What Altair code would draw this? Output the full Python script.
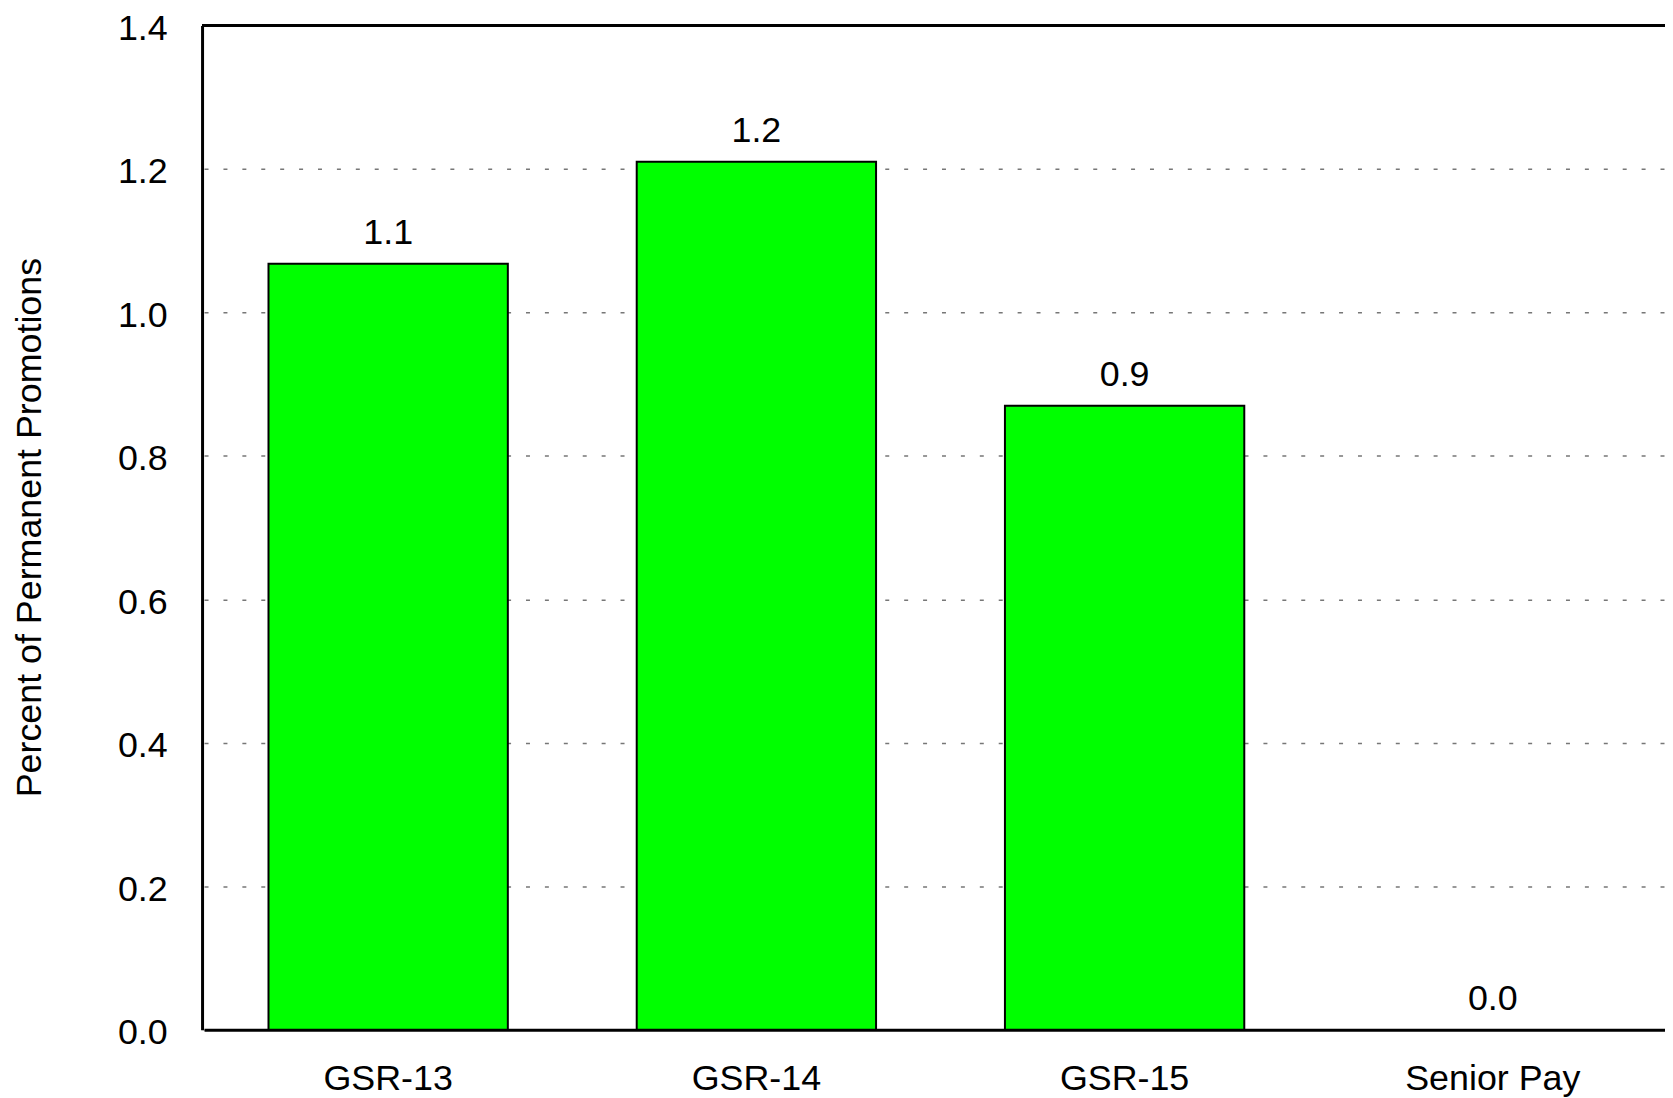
import altair as alt
import pandas as pd

categories = ["GSR-13", "GSR-14", "GSR-15", "Senior Pay"]
values = [1.068, 1.21, 0.87, 0.0]
y_ticks = [0.0, 0.2, 0.4, 0.6, 0.8, 1.0, 1.2, 1.4]

df = pd.DataFrame({"grade": categories, "pct": values})

FONT = "Liberation Sans"
FS = 36

x_scale = alt.Scale(domain=categories, range=[2, 1482], paddingInner=0.35, paddingOuter=0.175)

x = alt.X("grade:N", sort=categories, title=None, scale=x_scale,
          axis=alt.Axis(labelAngle=0, labelFontSize=FS, labelFont=FONT, labelColor="black",
                        labelPadding=32, ticks=False, domain=True, domainColor="black",
                        domainWidth=3, grid=False))
y = alt.Y("pct:Q", title="Percent of Permanent Promotions",
          scale=alt.Scale(domain=[0, 1.4], nice=False),
          axis=alt.Axis(values=y_ticks, format=".1f", labelFontSize=FS, labelFont=FONT,
                        labelColor="black", labelPadding=35, labelOffset=3, ticks=False,
                        domainColor="black", domainWidth=3,
                        grid=True, gridColor="#777777", gridDash=[4, 15], gridWidth=1.5,
                        titleFontSize=FS, titleFont=FONT, titleFontWeight="normal",
                        titleColor="black", titleX=-173, titleY=504,
                        titleAngle=-90, titleBaseline="middle", titleAlign="center"))

bars = alt.Chart(df).transform_filter("datum.pct > 0").mark_bar(
    color="#00ff00", stroke="black", strokeWidth=2).encode(x=x, y=y)
labels = alt.Chart(df).mark_text(baseline="alphabetic", dy=-20, fontSize=FS, font=FONT,
                                 color="black").encode(
    x=alt.X("grade:N", sort=categories, scale=x_scale),
    y="pct:Q",
    text=alt.Text("pct:Q", format=".1f"))
top_line = alt.Chart(df).mark_rule(color="black", strokeWidth=3).encode(
    x=alt.value(0), x2=alt.value(1480), y=alt.value(0))

chart = (bars + labels + top_line).properties(
    width=1470, height=1009,
    autosize=alt.AutoSizeParams(type="none"),
    padding={"left": 195, "top": 15, "right": 0, "bottom": 66},
).configure_view(stroke=None).configure(font=FONT)

chart.save("out.html", embed_options={"renderer": "svg", "actions": False})
